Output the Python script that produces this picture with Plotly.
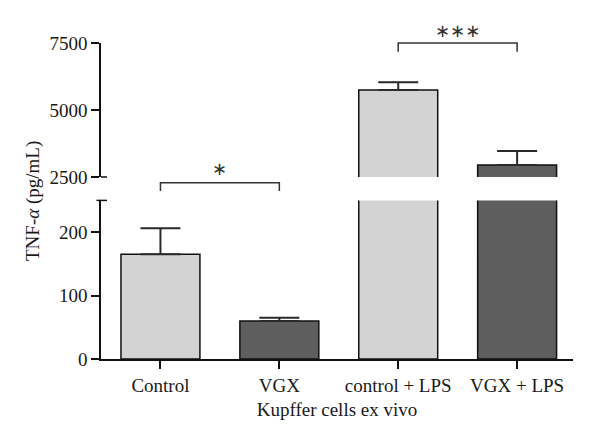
import plotly.graph_objects as go

# ---- data ----
categories = ["Control", "VGX", "control + LPS", "VGX + LPS"]
means = [165, 60, 5750, 2950]
errors_up = [41, 5, 290, 520]
bar_colors = ["#d3d3d3", "#5e5e5e", "#d3d3d3", "#5e5e5e"]
lower_ticks = [0, 100, 200]
upper_ticks = [2500, 5000, 7500]
lower_range = [0, 250]
upper_range = [2500, 7500]
x_title = "Kupffer cells ex vivo"
y_title = "TNF-<i>α</i> (pg/mL)"
# significance brackets: (from idx, to idx, label, segment, bracket level, leg end level, label level)
brackets = [
    (0, 1, "∗", "lower", 278, 265, 300),
    (2, 3, "∗∗∗", "upper", 7500, 7170, 7950),
]

# ---- layout geometry (page body has an 8px margin) ----
W, H = 592, 435
ML, MR, MT, MB = 93, 27, 35, 84
PH = H - MT - MB
PW = W - ML - MR
lower_dom = [0, 158.6 / PH]
upper_dom = [1 - 134 / PH, 1]

FONT = "Liberation Serif"
FS = 19
INK = "#1a1a1a"


def to_paper(v, seg):
    if seg == "lower":
        r, d = lower_range, lower_dom
    else:
        r, d = upper_range, upper_dom
    return d[0] + (v - r[0]) / (r[1] - r[0]) * (d[1] - d[0])


fig = go.Figure()
for xa, ya in (("x", "y"), ("x2", "y2")):
    fig.add_trace(go.Bar(
        x=categories, y=means,
        marker=dict(color=bar_colors, line=dict(color="#111", width=1.5)),
        error_y=dict(type="data", array=errors_up, arrayminus=[0] * len(means),
                     symmetric=False, color="#2a2a2a", thickness=2, width=20),
        xaxis=xa, yaxis=ya, showlegend=False,
    ))

axis_common = dict(showline=True, linecolor="#111", linewidth=1.5,
                   ticks="outside", ticklen=8, tickwidth=1.5, tickcolor="#111",
                   showgrid=False, zeroline=False, automargin=False,
                   tickfont=dict(family=FONT, size=FS, color=INK))

fig.update_layout(
    width=W, height=H,
    margin=dict(l=ML, r=MR, t=MT, b=MB, autoexpand=False),
    plot_bgcolor="white", paper_bgcolor="white",
    bargap=0.336,
    xaxis=dict(type="category", categoryorder="array", categoryarray=categories,
               range=[-0.5, 3.47], anchor="y", domain=[0, 1],
               title=dict(text=x_title, font=dict(family=FONT, size=FS, color=INK), standoff=8),
               **axis_common),
    xaxis2=dict(type="category", categoryorder="array", categoryarray=categories,
                range=[-0.5, 3.47], anchor="y2", matches="x", visible=False),
    yaxis=dict(domain=lower_dom, range=lower_range, tickvals=lower_ticks,
               anchor="x", **axis_common),
    yaxis2=dict(domain=upper_dom, range=upper_range, tickvals=upper_ticks,
                anchor="x2", **axis_common),
)

# axis break caps
fig.add_shape(type="line", xref="paper", yref="paper", xsizemode="pixel", xanchor=0,
              x0=0, x1=6, y0=upper_dom[0], y1=upper_dom[0],
              line=dict(color="#111", width=1.5))
fig.add_shape(type="line", xref="paper", yref="paper", xsizemode="pixel", xanchor=0,
              x0=-4.5, x1=6, y0=lower_dom[1], y1=lower_dom[1],
              line=dict(color="#111", width=1.5))

# significance brackets
for i0, i1, lab, seg, lvl, leg, lab_lvl in brackets:
    yb = to_paper(lvl, seg)
    yl = to_paper(leg, seg)
    fig.add_shape(type="path", xref="x", yref="paper",
                  path=f"M {i0},{yl} L {i0},{yb} L {i1},{yb} L {i1},{yl}",
                  line=dict(color="#333", width=1.5))
    fig.add_annotation(x=(i0 + i1) / 2, y=to_paper(lab_lvl, seg), xref="x", yref="paper",
                       text=lab, showarrow=False, yanchor="middle",
                       font=dict(family="DejaVu Sans", size=18, color="#333"))

# y axis title
fig.add_annotation(x=(25 - ML) / PW, y=0.5, xref="paper", yref="paper",
                   xanchor="center", yanchor="middle",
                   text=y_title, textangle=-90, showarrow=False,
                   font=dict(family=FONT, size=FS, color=INK))

fig.write_html("out.html")
